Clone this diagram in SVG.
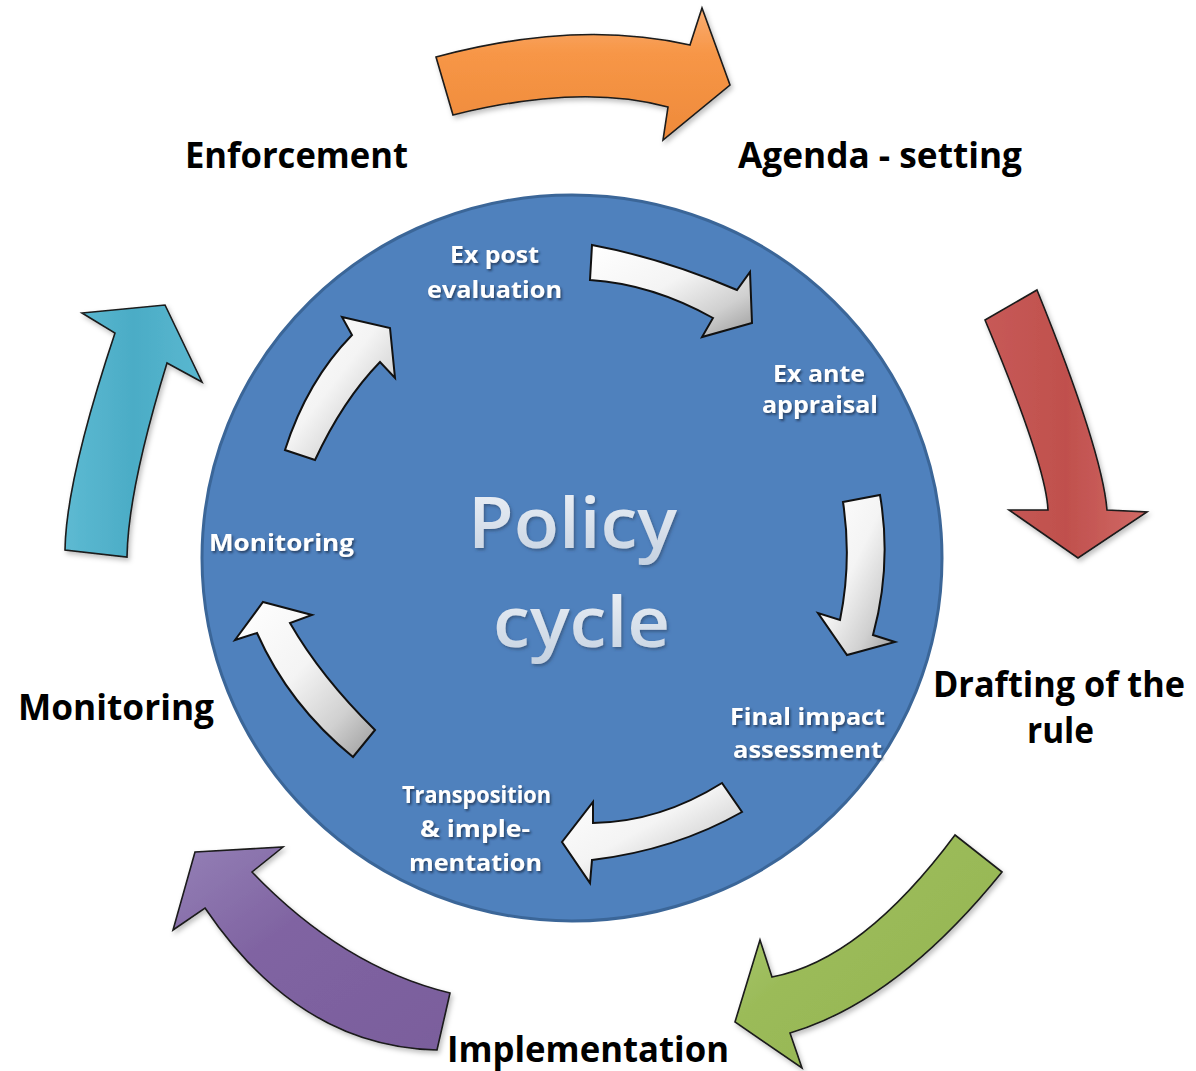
<svg xmlns="http://www.w3.org/2000/svg" width="1196" height="1071" viewBox="0 0 1196 1071">
<style>
.outer{font-family:"Open Sans","Liberation Sans",sans-serif;font-weight:700;font-size:36px;fill:#000}
.inner{font-family:"Open Sans","Liberation Sans",sans-serif;font-weight:700;font-size:24px;fill:#fff;filter:url(#tsh)}
.title{font-family:"Open Sans","Liberation Sans",sans-serif;font-weight:600;font-size:71px;fill:url(#tg);filter:url(#tsh2)}
.arr{stroke:#1a1a1a;stroke-width:1.6;stroke-linejoin:miter;filter:url(#ash)}
.warr{stroke:#111;stroke-width:2;stroke-linejoin:miter;fill:url(#wg)}
</style>
<defs>
<filter id="tsh" x="-20%" y="-30%" width="140%" height="160%">
<feDropShadow dx="1.5" dy="2" stdDeviation="1.2" flood-color="#1c2f4a" flood-opacity="0.75"/>
</filter>
<filter id="tsh2" x="-10%" y="-20%" width="120%" height="140%">
<feDropShadow dx="1.5" dy="2" stdDeviation="1.5" flood-color="#2a4466" flood-opacity="0.6"/>
</filter>
<filter id="ash" x="-20%" y="-20%" width="140%" height="140%">
<feDropShadow dx="2" dy="3" stdDeviation="2.5" flood-color="#000" flood-opacity="0.25"/>
</filter>
<linearGradient id="tg" x1="0" y1="0" x2="0" y2="1">
<stop offset="0" stop-color="#f2f5f9"/>
<stop offset="1" stop-color="#c3d0e0"/>
</linearGradient>
<linearGradient id="wg" x1="0" y1="0" x2="1" y2="1">
<stop offset="0" stop-color="#ffffff"/>
<stop offset="0.45" stop-color="#f4f4f4"/>
<stop offset="0.75" stop-color="#d0d0d0"/>
<stop offset="1" stop-color="#9a9a9a"/>
</linearGradient>
<linearGradient id="og" x1="0" y1="0" x2="0" y2="1">
<stop offset="0" stop-color="#f9ad72"/>
<stop offset="0.35" stop-color="#f79646"/>
<stop offset="1" stop-color="#ee8a3b"/>
</linearGradient>
<linearGradient id="rg" x1="0" y1="0" x2="1" y2="0">
<stop offset="0" stop-color="#c75a57"/>
<stop offset="0.5" stop-color="#c0504d"/>
<stop offset="1" stop-color="#d16a66"/>
</linearGradient>
<linearGradient id="gg" x1="0" y1="0" x2="1" y2="1">
<stop offset="0" stop-color="#b2d07a"/>
<stop offset="0.4" stop-color="#9bbb59"/>
<stop offset="1" stop-color="#93b352"/>
</linearGradient>
<linearGradient id="pg" x1="0" y1="0" x2="1" y2="1">
<stop offset="0" stop-color="#9480b6"/>
<stop offset="0.4" stop-color="#8064a2"/>
<stop offset="1" stop-color="#7a5e9c"/>
</linearGradient>
<linearGradient id="cg" x1="0" y1="0" x2="1" y2="0">
<stop offset="0" stop-color="#5dbad2"/>
<stop offset="0.5" stop-color="#4bacc6"/>
<stop offset="1" stop-color="#5ab8d0"/>
</linearGradient>
</defs>

<g id="circle">
<ellipse cx="572" cy="558" rx="370" ry="363" fill="#4f81bd" stroke="#3b6698" stroke-width="3"/>
</g>

<g id="connectors">
<path id="arrow-orange" class="arr" fill="url(#og)" d="M436,57 Q577,19 690,45 L702,8 L730,85 L663,140 L668,107 Q580,83 453,115 Z"/>
<path id="arrow-red" class="arr" fill="url(#rg)" d="M985,320 L1037,290 Q1102,450 1107,510 L1147,512 L1078,558 L1009,510 L1048,510 Q1046,465 985,320 Z"/>
<path id="arrow-green" class="arr" fill="url(#gg)" d="M955,835 L1002,872 Q898,1001 790,1033 L802,1068 L735,1022 L760,940 L772,977 Q862,960 955,835 Z"/>
<path id="arrow-purple" class="arr" fill="url(#pg)" d="M195,852 L283,847 L252,872 Q343,967 450,993 L437,1050 Q299,1047 205,908 L173,930 Z"/>
<path id="arrow-cyan" class="arr" fill="url(#cg)" d="M165,305 L202,382 L167,363 Q128,490 127,557 L65,550 Q66,480 115,333 L82,313 Z"/>
<path id="warrow-1" class="warr" d="M592,245 Q662,258 737,290 L750,272 L752,323 L702,337 L713,318 Q652,284 590,280 Z"/>
<path id="warrow-2" class="warr" d="M843,502 L880,495 Q892,565 873,635 L895,642 L847,655 L818,613 L840,620 Q852,561 843,502 Z"/>
<path id="warrow-3" class="warr" d="M722,783 L742,812 Q675,850 592,860 L590,883 L562,842 L593,802 L593,823 Q660,822 722,783 Z"/>
<path id="warrow-4" class="warr" d="M263,602 L312,615 L290,623 Q321,677 375,730 L353,757 Q289,705 257,633 L235,640 Z"/>
<path id="warrow-5" class="warr" d="M285,450 Q307,381 352,335 L342,317 L390,328 L395,378 L380,362 Q343,400 315,460 Z"/>
</g>

<g id="title">
<text class="title" x="468" y="548" textLength="209" lengthAdjust="spacingAndGlyphs">Policy</text>
<text class="title" x="493" y="647" textLength="177" lengthAdjust="spacingAndGlyphs">cycle</text>
</g>

<g id="label-enforcement"><text class="outer" x="185" y="168" textLength="223" lengthAdjust="spacingAndGlyphs">Enforcement</text></g>
<g id="label-agenda"><text class="outer" x="738" y="168" textLength="284" lengthAdjust="spacingAndGlyphs">Agenda - setting</text></g>
<g id="label-drafting">
<text class="outer" x="933" y="697" textLength="252" lengthAdjust="spacingAndGlyphs">Drafting of the</text>
<text class="outer" x="1027" y="743" textLength="67" lengthAdjust="spacingAndGlyphs">rule</text>
</g>
<g id="label-implementation"><text class="outer" x="447" y="1062" textLength="282" lengthAdjust="spacingAndGlyphs">Implementation</text></g>
<g id="label-monitoring-outer"><text class="outer" x="18" y="720" textLength="196" lengthAdjust="spacingAndGlyphs">Monitoring</text></g>

<g id="label-expost">
<text class="inner" x="450" y="263" textLength="89" lengthAdjust="spacingAndGlyphs">Ex post</text>
<text class="inner" x="427" y="298" textLength="135" lengthAdjust="spacingAndGlyphs">evaluation</text>
</g>
<g id="label-exante">
<text class="inner" x="773" y="382" textLength="92" lengthAdjust="spacingAndGlyphs">Ex ante</text>
<text class="inner" x="762" y="413" textLength="116" lengthAdjust="spacingAndGlyphs">appraisal</text>
</g>
<g id="label-final">
<text class="inner" x="730" y="725" textLength="155" lengthAdjust="spacingAndGlyphs">Final impact</text>
<text class="inner" x="733" y="758" textLength="149" lengthAdjust="spacingAndGlyphs">assessment</text>
</g>
<g id="label-transposition">
<text class="inner" x="402" y="803" textLength="149" lengthAdjust="spacingAndGlyphs">Transposition</text>
<text class="inner" x="420" y="837" textLength="110" lengthAdjust="spacingAndGlyphs">&amp; imple-</text>
<text class="inner" x="409" y="871" textLength="133" lengthAdjust="spacingAndGlyphs">mentation</text>
</g>
<g id="label-monitoring-inner"><text class="inner" x="209" y="551" textLength="145" lengthAdjust="spacingAndGlyphs">Monitoring</text></g>
</svg>
